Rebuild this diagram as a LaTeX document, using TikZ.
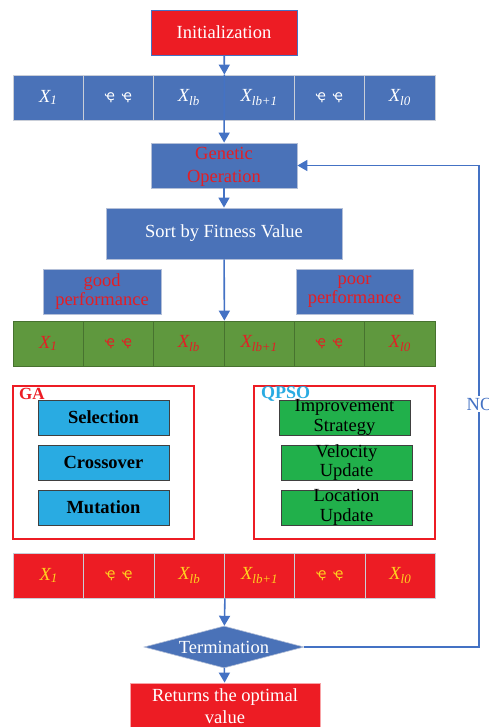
\documentclass[tikz,border=0pt]{standalone}
\usepackage{fontspec}
\setmainfont{Liberation Serif}
\newfontfamily\dotsfont{DejaVu Sans}
\usetikzlibrary{shapes.geometric,arrows.meta}
\definecolor{obl}{HTML}{4A72B8}
\definecolor{oline}{HTML}{4472C4}
\definecolor{ored}{HTML}{ED1C24}
\definecolor{tred}{HTML}{E31E25}
\definecolor{ogreen}{HTML}{5F983E}
\definecolor{ocyan}{HTML}{29ABE2}
\definecolor{qgreen}{HTML}{21B04B}
\definecolor{oyel}{HTML}{FFD21F}
\definecolor{cellb}{HTML}{C9CED8}
\definecolor{lightb}{HTML}{B3BFD8}
\newcommand{\dd}{{\dotsfont\fontsize{14}{14}\selectfont ҿ\hspace{7pt}ҿ}}
\begin{document}
\begin{tikzpicture}[x=1pt,y=-1pt,
  font=\fontsize{18.5}{20}\selectfont,
  base/.style={rectangle, inner sep=0pt, align=center},
  bluebox/.style={base, fill=obl, draw=lightb, line width=0.8pt},
  cellbox/.style={base, minimum width=70.33pt, minimum height=45pt, line width=0.8pt},
  frame/.style={base, draw=ored, line width=1.8pt, fill=white},
  gabox/.style={base, fill=ocyan, draw=black!75, line width=0.8pt, minimum width=131pt, minimum height=35pt},
  qbox/.style={base, fill=qgreen, draw=black!75, line width=0.8pt, minimum width=131pt, minimum height=35pt},
  txt/.style={inner sep=0pt, align=center},
  arr/.style={draw=oline, line width=1.6pt, -{Triangle[width=11pt,length=10pt]}},
  loopline/.style={draw=oline, line width=1.6pt}
]
\useasboundingbox (0,0) rectangle (488,727);

% Initialization
\node[base, fill=ored, draw=oline, line width=0.8pt, minimum width=146pt, minimum height=45pt, text=white] (init) at (224,32.5) {Initialization};

% rows
\foreach \i/\lab in {1/{\textit{X\textsubscript{1}}}, 2/{\dd}, 3/{\textit{X\textsubscript{lb}}}, 4/{\textit{X\textsubscript{lb+1}}}, 5/{\dd}, 6/{\textit{X\textsubscript{l0}}}} {
  \node[cellbox, fill=obl, draw=cellb, text=white] (a\i) at ({13+70.33*(\i-0.5)},97.5) {\lab};
  \node[cellbox, fill=ogreen, draw=ogreen!75!black, text=tred] (g\i) at ({13+70.33*(\i-0.5)},343.5) {\lab};
  \node[cellbox, fill=ored, draw=cellb, text=oyel] (r\i) at ({13.5+70.33*(\i-0.5)},575.5) {\lab};
}

% Genetic operation
\node[bluebox, minimum width=146pt, minimum height=45pt] (gen) at (224,165.5) {};
\node[txt, text=tred, font=\fontsize{18.5}{23}\selectfont] (gentxt) at (224,167) {Genetic\\Operation};

% Sort
\node[bluebox, minimum width=236pt, minimum height=51pt, text=white] (sort) at (224,233.5) {Sort by Fitness Value};

% good / poor
\node[bluebox, minimum width=118pt, minimum height=45pt] (good) at (102,291.5) {};
\node[txt, text=tred, font=\fontsize{18.5}{19}\selectfont] (goodtxt) at (102,292) {good\\performance};
\node[bluebox, minimum width=117pt, minimum height=45pt] (poor) at (354.5,291.5) {};
\node[txt, text=tred, font=\fontsize{18.5}{19}\selectfont] (poortxt) at (354.5,292) {poor\\performance};

% GA frame
\node[frame, minimum width=181pt, minimum height=153pt] (ga) at (103.5,462.5) {};
\node[txt, anchor=west, text=ored, font=\bfseries\fontsize{17}{17}\selectfont] (galab) at (19,393.5) {GA};
\node[gabox, font=\bfseries\fontsize{18.5}{20}\selectfont] (sel) at (103.5,417.5) {Selection};
\node[gabox, font=\bfseries\fontsize{18.5}{20}\selectfont] (cro) at (103.5,462.5) {Crossover};
\node[gabox, font=\bfseries\fontsize{18.5}{20}\selectfont] (mut) at (103.5,507.5) {Mutation};

% QPSO frame
\node[frame, minimum width=181pt, minimum height=153pt] (qpso) at (344.5,462.5) {};
\node[txt, anchor=west, text=ocyan, font=\bfseries\fontsize{18}{18}\selectfont] (qlab) at (261,393.5) {QPSO};
\node[qbox] (imp) at (344.5,417.5) {};
\node[txt, font=\fontsize{18.5}{19.5}\selectfont] (imptxt) at (imp) {Improvement\\Strategy};
\node[qbox] (vel) at (346.5,462.5) {};
\node[txt, font=\fontsize{18.5}{19.5}\selectfont] (veltxt) at (vel) {Velocity\\Update};
\node[qbox] (loc) at (346.5,507.5) {};
\node[txt, font=\fontsize{18.5}{19.5}\selectfont] (loctxt) at (loc) {Location\\Update};

% Termination
\node[diamond, fill=obl, draw=lightb, line width=0.6pt, inner sep=0pt, minimum width=160pt, minimum height=42pt] (term) at (224,647) {};
\node[txt, text=white] (termtxt) at (term) {Termination};

% Returns
\node[base, fill=ored, draw=ored!40!white, line width=0.8pt, minimum width=190pt, minimum height=52pt] (ret) at (225,709) {};
\node[txt, text=white, font=\fontsize{18.5}{22}\selectfont] (rettxt) at (225,706) {Returns the optimal\\value};

% connectors
\draw[arr] (init) -- (a3.north east);
\draw[arr] (a3.north east) -- (gen);
\draw[arr] (gen) -- (sort);
\draw[arr] (sort) -- (g3.north east);
\draw[arr] (r3.south east) -- (term);
\draw[arr] (term) -- (ret);

\coordinate (nob) at (479,647);
\coordinate (not) at (479,165.5);
\draw[loopline] (term.east) -- (nob) -- (not);
\draw[arr] (not) -- (gen.east);
\node[txt, fill=white, inner sep=2pt, text=oline] (nolab) at (480,404) {NO};
\end{tikzpicture}
\end{document}
